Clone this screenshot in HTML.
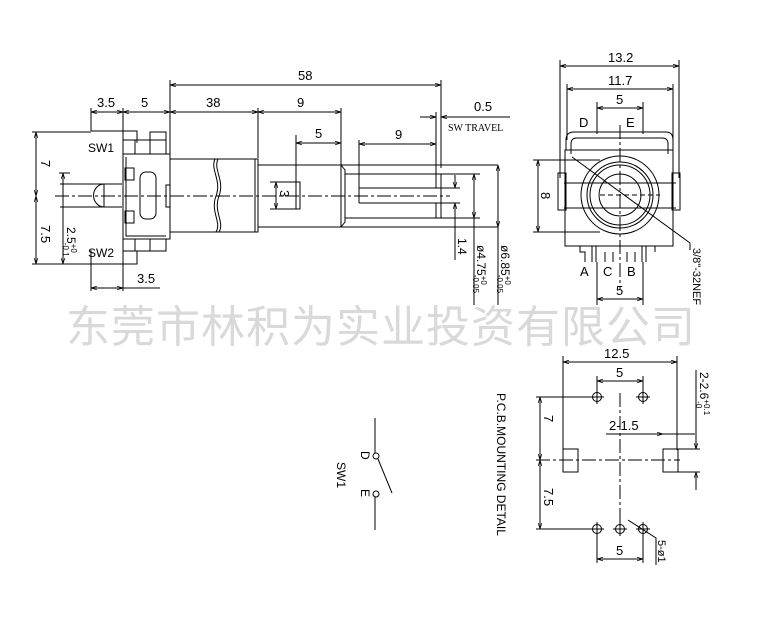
<!DOCTYPE html>
<html><head><meta charset="utf-8"><style>
html,body{margin:0;padding:0;background:#fff;width:766px;height:634px;overflow:hidden}
svg{display:block}
text{font-family:"Liberation Sans",sans-serif;fill:#000}
</style></head><body>
<svg width="766" height="634" viewBox="0 0 766 634" xmlns="http://www.w3.org/2000/svg">
<defs>
<marker id="a" viewBox="0 0 10 10" refX="10" refY="5" markerWidth="6" markerHeight="6" orient="auto-start-reverse"><path d="M0,2 L10,5 L0,8" fill="none" stroke="#000" stroke-width="1.2"/></marker>
</defs>
<!-- watermark -->
<text x="66" y="342" font-size="44" style="font-family:'Noto Sans CJK SC',sans-serif;fill:#d9d9d9;letter-spacing:1px">东莞市林积为实业投资有限公司</text>

<g stroke="#000" stroke-width="1" fill="none">
<!-- LEFT VIEW dims -->
<line x1="170" y1="85" x2="441" y2="85" marker-start="url(#a)" marker-end="url(#a)"/>
<line x1="170" y1="80" x2="170" y2="158"/><line x1="441" y1="80" x2="441" y2="168"/>
<line x1="91" y1="108" x2="91" y2="131"/><line x1="91" y1="250" x2="91" y2="291"/>
<line x1="123" y1="108" x2="123" y2="291"/>
<line x1="258" y1="108" x2="258" y2="158"/>
<line x1="341" y1="108" x2="341" y2="165"/>
<line x1="91" y1="112" x2="123" y2="112" marker-start="url(#a)" marker-end="url(#a)"/>
<line x1="123" y1="112" x2="170" y2="112" marker-start="url(#a)" marker-end="url(#a)"/>
<line x1="170" y1="112" x2="258" y2="112" marker-start="url(#a)" marker-end="url(#a)"/>
<line x1="258" y1="112" x2="341" y2="112" marker-start="url(#a)" marker-end="url(#a)"/>
<line x1="436" y1="112" x2="436" y2="174"/>
<line x1="420" y1="117" x2="436" y2="117" marker-end="url(#a)"/>
<line x1="441" y1="117" x2="510" y2="117" marker-start="url(#a)"/>
<line x1="296" y1="135" x2="296" y2="182"/>
<line x1="296" y1="143" x2="341" y2="143" marker-start="url(#a)" marker-end="url(#a)"/>
<line x1="359" y1="140" x2="359" y2="188"/>
<line x1="359" y1="144" x2="436" y2="144" marker-start="url(#a)" marker-end="url(#a)"/>
<!-- height dims -->
<line x1="32" y1="132" x2="91" y2="132"/><line x1="32" y1="264" x2="91" y2="264"/>
<line x1="36" y1="132" x2="36" y2="196" marker-start="url(#a)" marker-end="url(#a)"/>
<line x1="36" y1="196" x2="36" y2="264" marker-start="url(#a)" marker-end="url(#a)"/>
<line x1="59" y1="173" x2="70" y2="173"/>
<line x1="63" y1="173" x2="63" y2="264" marker-start="url(#a)" marker-end="url(#a)"/>
<line x1="91" y1="288" x2="123" y2="288" marker-start="url(#a)" marker-end="url(#a)"/>
<line x1="123" y1="288" x2="160" y2="288"/>
<!-- body -->
<polyline points="91,131 137,131 137,143"/>
<polyline points="91,264 137,264 137,251"/>
<rect x="123" y="140" width="43" height="14"/><line x1="135" y1="140" x2="135" y2="154"/><line x1="150" y1="132" x2="150" y2="154"/><rect x="150" y="132" width="16" height="22"/>
<rect x="123" y="239" width="43" height="12"/><line x1="135" y1="239" x2="135" y2="251"/><line x1="150" y1="239" x2="150" y2="251"/>
<rect x="123" y="154" width="47" height="85"/>
<polyline points="126,157 126,236 166,236"/>
<rect x="125" y="168" width="9" height="12"/><rect x="125" y="211" width="9" height="12"/>
<rect x="140" y="172" width="16" height="47" rx="6"/>
<rect x="166" y="185" width="4" height="22"/>
<polyline points="60,184 122,184"/><polyline points="60,207 122,207"/>
<line x1="104" y1="184" x2="104" y2="207"/><path d="M104,184 A10,11 0 0 0 104,207"/>
<!-- bushing -->
<rect x="170" y="159" width="88" height="73"/>
<line x1="255" y1="159" x2="255" y2="232"/>
<path d="M215,159 C210,170 222,180 216,196 C210,212 222,222 216,232"/>
<path d="M218,159 C213,170 225,180 219,196 C213,212 225,222 219,232"/>
<!-- shaft -->
<line x1="258" y1="165" x2="498" y2="165"/><line x1="258" y1="227" x2="498" y2="227"/>
<line x1="341" y1="165" x2="341" y2="227"/>
<path d="M341,165 L345,170 L345,222 L341,227"/>
<line x1="345" y1="174" x2="480" y2="174"/><line x1="345" y1="218" x2="480" y2="218"/>
<line x1="441" y1="174" x2="441" y2="218"/>
<line x1="359" y1="188" x2="441" y2="188"/><line x1="359" y1="203" x2="441" y2="203"/><line x1="359" y1="188" x2="359" y2="203"/>
<line x1="436" y1="174" x2="436" y2="188"/><line x1="436" y1="203" x2="436" y2="218"/>
<line x1="436" y1="188" x2="460" y2="188"/><line x1="436" y1="203" x2="460" y2="203"/>
<rect x="296" y="182" width="4" height="27"/>
<line x1="270" y1="182" x2="296" y2="182"/><line x1="270" y1="209" x2="296" y2="209"/>
<line x1="276" y1="182" x2="276" y2="209" marker-start="url(#a)" marker-end="url(#a)"/>
<line x1="55" y1="196" x2="450" y2="196" stroke-dasharray="14,3,3,3"/>
<line x1="455" y1="175" x2="455" y2="188" marker-end="url(#a)"/>
<line x1="455" y1="203" x2="455" y2="260" marker-start="url(#a)"/>
<line x1="474" y1="174" x2="474" y2="305" marker-start="url(#a)"/>
<line x1="474" y1="174" x2="474" y2="218" marker-end="url(#a)"/>
<line x1="498" y1="165" x2="498" y2="305"/>
<line x1="498" y1="165" x2="498" y2="227" marker-start="url(#a)" marker-end="url(#a)"/>

<!-- RIGHT TOP VIEW -->
<line x1="560" y1="60" x2="560" y2="178"/><line x1="679" y1="60" x2="679" y2="178"/>
<line x1="560" y1="66" x2="679" y2="66" marker-start="url(#a)" marker-end="url(#a)"/>
<line x1="567" y1="84" x2="567" y2="140"/><line x1="673" y1="84" x2="673" y2="140"/>
<line x1="567" y1="89" x2="673" y2="89" marker-start="url(#a)" marker-end="url(#a)"/>
<line x1="597" y1="102" x2="597" y2="134"/><line x1="643" y1="102" x2="643" y2="134"/>
<line x1="597" y1="108" x2="643" y2="108" marker-start="url(#a)" marker-end="url(#a)"/>
<path d="M566,150 L566,140 Q566,132 574,132 L666,132 Q673,132 673,140 L673,150"/>
<path d="M571,154 L571,144 Q571,138 577,138 L662,138 Q668,138 668,144 L668,154"/>
<rect x="565" y="150" width="108" height="96"/>
<rect x="558" y="173" width="8" height="37"/><rect x="672" y="173" width="8" height="37"/>
<line x1="564" y1="183" x2="676" y2="183"/><line x1="564" y1="208" x2="676" y2="208"/>
<circle cx="620" cy="195" r="39"/><circle cx="620" cy="195" r="33"/><circle cx="620" cy="195" r="30"/><circle cx="620" cy="195" r="21"/>
<line x1="600" y1="195" x2="660" y2="195" stroke-dasharray="5,3"/>
<line x1="620" y1="125" x2="620" y2="290" stroke-dasharray="14,3,3,3"/>
<line x1="533" y1="160" x2="600" y2="160"/><line x1="533" y1="232" x2="600" y2="232"/>
<line x1="538" y1="160" x2="538" y2="232" marker-start="url(#a)" marker-end="url(#a)"/>
<polyline points="572,157 690,243 690,250"/>
<path d="M580,246 L580,252 L585,252 L585,262 M592,246 L592,262 M596,246 L596,262 M605,252 L605,262 M613,252 L613,262 M627,252 L627,262 M635,252 L635,262 M642,246 L642,262 M646,246 L646,262 M655,252 L655,246"/>
<line x1="597" y1="262" x2="597" y2="305"/><line x1="643" y1="262" x2="643" y2="305"/>
<line x1="597" y1="299" x2="643" y2="299" marker-start="url(#a)" marker-end="url(#a)"/>

<!-- PCB -->
<line x1="563" y1="356" x2="563" y2="450"/><line x1="677" y1="356" x2="677" y2="450"/>
<line x1="563" y1="362" x2="677" y2="362" marker-start="url(#a)" marker-end="url(#a)"/>
<line x1="597" y1="376" x2="597" y2="392"/><line x1="643" y1="376" x2="643" y2="392"/>
<line x1="597" y1="381" x2="643" y2="381" marker-start="url(#a)" marker-end="url(#a)"/>
<circle cx="597" cy="397" r="4.5"/><line x1="590" y1="397" x2="604" y2="397"/><line x1="597" y1="390" x2="597" y2="404"/>
<circle cx="643" cy="397" r="4.5"/><line x1="636" y1="397" x2="650" y2="397"/><line x1="643" y1="390" x2="643" y2="404"/>
<line x1="536" y1="397" x2="590" y2="397"/>
<line x1="540" y1="397" x2="540" y2="460" marker-start="url(#a)" marker-end="url(#a)"/>
<line x1="540" y1="460" x2="540" y2="529" marker-start="url(#a)" marker-end="url(#a)"/>
<line x1="536" y1="529" x2="590" y2="529"/>
<line x1="536" y1="460" x2="680" y2="460" stroke-dasharray="14,3,3,3"/>
<line x1="620" y1="393" x2="620" y2="535" stroke-dasharray="14,3,3,3"/>
<rect x="563" y="449" width="15" height="23"/><rect x="663" y="449" width="15" height="23"/>
<line x1="606" y1="434" x2="663" y2="434" marker-end="url(#a)"/>
<line x1="663" y1="434" x2="695" y2="434"/>
<line x1="678" y1="449" x2="700" y2="449"/><line x1="678" y1="472" x2="700" y2="472"/>
<line x1="696" y1="370" x2="696" y2="449" marker-end="url(#a)"/>
<line x1="696" y1="472" x2="696" y2="490" marker-start="url(#a)"/>
<circle cx="597" cy="529" r="4.5"/><line x1="590" y1="529" x2="604" y2="529"/><line x1="597" y1="522" x2="597" y2="536"/>
<circle cx="620" cy="529" r="4.5"/><line x1="613" y1="529" x2="627" y2="529"/><line x1="620" y1="522" x2="620" y2="536"/>
<circle cx="643" cy="529" r="4.5"/><line x1="636" y1="529" x2="650" y2="529"/><line x1="643" y1="522" x2="643" y2="536"/>
<line x1="597" y1="536" x2="597" y2="563"/><line x1="643" y1="536" x2="643" y2="563"/>
<line x1="597" y1="559" x2="643" y2="559" marker-start="url(#a)" marker-end="url(#a)"/>
<polyline points="628,520 656,538 656,565"/>

<!-- switch -->
<line x1="375" y1="418" x2="375" y2="453"/>
<circle cx="376" cy="456" r="3"/>
<line x1="378" y1="459" x2="392" y2="493"/>
<circle cx="376" cy="494" r="3"/>
<line x1="375" y1="497" x2="375" y2="530"/>
</g>

<g font-size="13">
<text x="298" y="80">58</text>
<text x="97" y="107">3.5</text>
<text x="141" y="107">5</text>
<text x="206" y="107">38</text>
<text x="297" y="107">9</text>
<text x="315" y="138">5</text>
<text x="395" y="139">9</text>
<text x="474" y="111">0.5</text>
<text x="448" y="131" font-size="10" style="font-family:'Liberation Serif',serif">SW TRAVEL</text>
<text x="88" y="152" font-size="12">SW1</text>
<text x="88" y="257" font-size="12">SW2</text>
<text x="137" y="283">3.5</text>
<text transform="translate(41,160) rotate(90)">7</text>
<text transform="translate(41,225) rotate(90)">7.5</text>
<text transform="translate(67,227) rotate(90)" font-size="12">2.5<tspan font-size="8" dy="-4">+0</tspan><tspan font-size="8" dx="-10" dy="8">-0.1</tspan></text>
<text transform="translate(280,190) rotate(90)">3</text>
<text transform="translate(458,238) rotate(90)" font-size="12">1.4</text>
<text transform="translate(477,245) rotate(90)" font-size="12">ø4.75<tspan font-size="8" dy="-4">+0</tspan><tspan font-size="8" dx="-10" dy="8">-0.05</tspan></text>
<text transform="translate(501,245) rotate(90)" font-size="12">ø6.85<tspan font-size="8" dy="-4">+0</tspan><tspan font-size="8" dx="-10" dy="8">-0.05</tspan></text>

<text x="608" y="62">13.2</text>
<text x="608" y="85">11.7</text>
<text x="616" y="104">5</text>
<text x="579" y="127">D</text>
<text x="626" y="127">E</text>
<text transform="translate(541,192) rotate(90)">8</text>
<text x="580" y="276">A</text>
<text x="603" y="276">C</text>
<text x="627" y="276">B</text>
<text x="616" y="295">5</text>
<text transform="translate(693,248) rotate(90)" font-size="11">3/8"-32NEF</text>

<text x="604" y="358">12.5</text>
<text x="616" y="377">5</text>
<text x="609" y="430">2-1.5</text>
<text x="616" y="555">5</text>
<text transform="translate(544,415) rotate(90)">7</text>
<text transform="translate(544,488) rotate(90)">7.5</text>
<text transform="translate(700,372) rotate(90)" font-size="12">2-2.6<tspan font-size="8" dy="-4">+0.1</tspan><tspan font-size="8" dx="-14" dy="8">-0</tspan></text>
<text transform="translate(658,540) rotate(90)" font-size="11">5-ø1</text>
<text transform="translate(497,393) rotate(90)" font-size="12">P.C.B.MOUNTING  DETAIL</text>

<text transform="translate(361,451) rotate(90)" font-size="12">D</text>
<text transform="translate(361,489) rotate(90)" font-size="12">E</text>
<text transform="translate(337,462) rotate(90)" font-size="12">SW1</text>
</g>
</svg>
</body></html>
